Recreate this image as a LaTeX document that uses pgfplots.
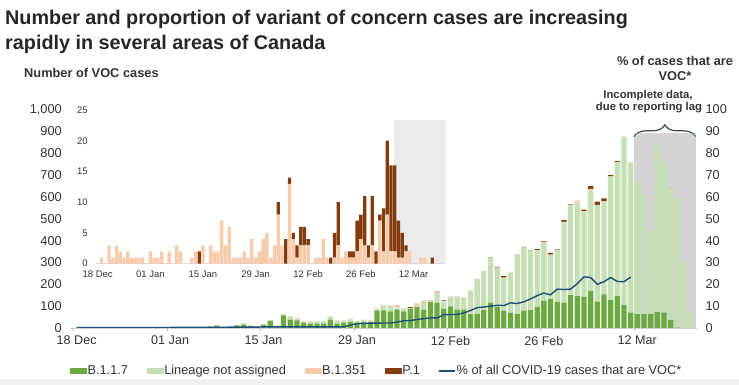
\documentclass[border=0pt]{standalone}
\usepackage{fontspec}
\setmainfont{Liberation Sans}
\usepackage{pgfplots}
\pgfplotsset{compat=1.18}
\usepackage{pgfplotstable}
\usetikzlibrary{decorations.pathreplacing}

\definecolor{cGreen}{HTML}{6AAA3F}
\definecolor{cLight}{HTML}{C5E0B4}
\definecolor{cPeach}{HTML}{F8CBAD}
\definecolor{cBrown}{HTML}{843C0C}
\definecolor{cLine}{HTML}{1F4E79}
\definecolor{cText}{HTML}{333333}
\definecolor{cTitle}{HTML}{262626}
\definecolor{cOver}{HTML}{A5A5A5}
\definecolor{cInsetGray}{HTML}{EBEBEB}
\definecolor{cBrace}{HTML}{3B4A5A}

\pgfplotstableread{
d G L P B
0 0 0 0 0
1 0 0 1 0
2 1 0 0 0
3 0 0 3 0
4 0 0 1 0
5 1 0 3 0
6 0 0 2 0
7 1 0 1 0
8 1 0 2 0
9 1 0 1 0
10 2 0 1 0
11 1 0 1 0
12 0 0 1 0
13 1 0 0 0
14 2 0 2 0
15 1 0 1 0
16 2 0 1 0
17 2 0 2 0
18 3 0 0 0
19 3 0 2 0
20 6 2 0 0
21 10 2 3 0
22 3 0 2 0
23 4 0 0 0
24 12 2 0 0
25 16 5 1 0
26 8 2 2 0
27 3 0 0 2
28 14 0 3 0
29 31 5 0 0
30 8 0 3 0
31 58 4 2 0
32 38 14 2 0
33 35 4 7 0
34 23 6 3 0
35 20 4 6 0
36 20 9 1 0
37 20 9 1 0
38 38 14 1 0
39 20 13 2 0
40 23 11 1 0
41 27 12 4 0
42 23 8 1 0
43 27 9 2 0
44 27 7 4 0
45 80 5 5 0
46 81 22 1 0
47 76 25 3 0
48 84 10 8 2
49 76 13 3 0
50 88 4 0 4
51 97 1 13 1
52 84 35 4 1
53 118 6 1 2
54 115 45 3 3
55 88 33 3 3
56 99 39 3 1
57 84 61 0 0
58 84 54 1 0
59 63 109 1 0
60 64 158 4 0
61 82 178 1 0
62 116 205 0 1
63 96 179 1 4
64 79 148 3 7
65 70 184 1 0
66 65 271 2 0
67 78 294 1 1
68 82 272 1 1
69 95 259 2 5
70 124 265 4 4
71 133 200 3 8
72 119 239 1 2
73 116 367 3 8
74 151 414 0 2
75 146 428 7 1
76 142 391 2 7
77 169 460 8 12
78 121 441 2 14
79 154 423 2 14
80 128 565 1 6
81 146 613 1 4
82 105 767 2 1
83 70 686 2 0
84 64 605 0 0
85 64 544 0 0
86 64 380 1 0
87 73 759 1 0
88 70 691 0 0
89 37 605 0 1
90 2 588 0 0
91 0 302 0 0
92 0 73 0 0
}\voc

\pgfplotstableread{
d pct
0 0.2
4 0.2
8 0.2
12 0.2
16 0.3
20 0.3
24 0.4
27 0.4
28 0.5
32 0.5
36 0.5
40 0.5
41 1.3
42 2.0
43 2.1
44 2.2
45 2.2
46 2.3
47 2.3
48 2.7
49 3.3
50 3.4
51 3.9
52 4.3
53 4.6
54 4.6
55 6.1
56 6.2
57 6.2
58 6.9
59 8.0
60 9.3
61 9.6
62 10.0
63 10.4
64 10.3
65 11.5
66 11.2
67 12.0
68 13.3
69 14.8
70 16.0
71 15.2
72 17.8
73 17.6
74 17.8
75 20.3
76 23.4
77 23.1
78 20.0
79 21.2
80 23.1
81 21.3
82 21.2
83 23.3
}\pct

\begin{document}
\begin{tikzpicture}
\useasboundingbox (0bp,0bp) rectangle (739bp,385bp);
\fill[black!6] (0bp,0bp) rectangle (739bp,6bp);

% titles
\node[anchor=base west, inner sep=0pt, font=\bfseries\fontsize{19.8bp}{24bp}\selectfont, text=cTitle] at (5bp,360bp) {Number and proportion of variant of concern cases are increasing};
\node[anchor=base west, inner sep=0pt, font=\bfseries\fontsize{19.8bp}{24bp}\selectfont, text=cTitle] at (5bp,335bp) {rapidly in several areas of Canada};
\node[anchor=base west, inner sep=0pt, font=\bfseries\fontsize{12.8bp}{15bp}\selectfont, text=cText] at (24bp,307bp) {Number of VOC cases};
\node[anchor=base, inner sep=0pt, font=\bfseries\fontsize{12.8bp}{15bp}\selectfont, text=cText] at (675bp,319.5bp) {\% of cases that are};
\node[anchor=base, inner sep=0pt, font=\bfseries\fontsize{12.8bp}{15bp}\selectfont, text=cText] at (675bp,304bp) {VOC*};
\node[anchor=base, inner sep=0pt, font=\bfseries\fontsize{11.3bp}{13bp}\selectfont, text=cText] at (648bp,286bp) {Incomplete data,};
\node[anchor=base, inner sep=0pt, font=\bfseries\fontsize{11.3bp}{13bp}\selectfont, text=cText] at (649bp,274bp) {due to reporting lag};

% main axis
\begin{axis}[
  at={(70bp,57bp)}, anchor=south west,
  scale only axis, width=627.4bp, height=218.5bp,
  xmin=-1, xmax=93, ymin=0, ymax=1000,
  ybar stacked, bar width=5.3bp,
  axis x line*=bottom, axis y line*=left,
  x axis line style={draw=black!18, -},
  y axis line style={draw=none, -},
  xtick={0,14,28,42,56,70,84},
  xticklabels={18 Dec,01 Jan,15 Jan,29 Jan,12 Feb,26 Feb,12 Mar},
  xtick style={draw=none},
  extra x ticks={-0.5,13.5,27.5,41.5,55.5,69.5,83.5},
  extra x tick labels={},
  extra x tick style={tick align=outside, major tick length=3bp, xtick style={draw=black!25}},
  ytick={0,100,...,1000},
  yticklabels={0,100,200,300,400,500,600,700,800,900,{1,000}},
  ytick style={draw=none},
  ticklabel style={text=cText},
  xticklabel style={font=\fontsize{12.6bp}{14bp}\selectfont, inner sep=0pt, anchor=north, yshift=-8bp},
  yticklabel style={font=\fontsize{12.8bp}{14bp}\selectfont, inner sep=0pt, anchor=east, xshift=-8bp},
  legend style={draw=none, fill=none, at={(0.4877,-0.197)}, anchor=center,
    font=\fontsize{12.8bp}{15bp}\selectfont, text=cText,
    inner sep=0pt, nodes={inner sep=0.6bp},
    /tikz/every even column/.append style={column sep=18bp}},
  legend columns=5, legend cell align=left,
]
\addplot[fill=cGreen, draw=none, legend image code/.code={\fill[cGreen] (0bp,-3.3bp) rectangle (17bp,3.3bp);}] table[x=d,y=G]{\voc};
\addlegendentry{B.1.1.7}
\addplot[fill=cLight, draw=none, legend image code/.code={\fill[cLight] (0bp,-3.3bp) rectangle (17bp,3.3bp);}] table[x=d,y=L]{\voc};
\addlegendentry{Lineage not assigned}
\addplot[fill=cPeach, draw=none, legend image code/.code={\fill[cPeach] (0bp,-3.3bp) rectangle (17bp,3.3bp);}] table[x=d,y=P]{\voc};
\addlegendentry{B.1.351}
\addplot[fill=cBrown, draw=none, legend image code/.code={\fill[cBrown] (0bp,-3.3bp) rectangle (17bp,3.3bp);}] table[x=d,y=B]{\voc};
\addlegendentry{P.1}
\addlegendimage{legend image code/.code={\draw[cLine, line width=1.4bp] (0bp,0bp) -- (16bp,0bp);}}
\addlegendentry{\% of all COVID-19 cases that are VOC*}
\fill[cOver, fill opacity=0.48] (axis cs:83.5,-8) rectangle (axis cs:92.75,891);
\draw[decorate, decoration={brace, amplitude=12bp}, draw=cBrace, line width=1.2bp] (axis cs:83.5,875) -- (axis cs:92.75,875);
\end{axis}

% percentage axis
\begin{axis}[
  at={(70bp,57bp)}, anchor=south west,
  scale only axis, width=627.4bp, height=218.5bp,
  xmin=-1, xmax=93, ymin=0, ymax=100,
  axis x line=none, axis y line*=right,
  y axis line style={draw=none, -},
  ytick={0,10,...,100},
  yticklabels={0,10,20,30,40,50,60,70,80,90,100},
  ytick style={draw=none},
  yticklabel style={font=\fontsize{12.8bp}{14bp}\selectfont, text=cText, inner sep=0pt, anchor=west, xshift=8bp},
]
\addplot[cLine, line width=1.4bp, mark=none] table[x=d,y=pct]{\pct};
\end{axis}

% inset background (grey "incomplete" band)
\begin{axis}[
  at={(95.8bp,121.3bp)}, anchor=south west,
  scale only axis, width=349.7bp, height=153.7bp,
  xmin=-0.5, xmax=92.5, ymin=0, ymax=25,
  hide axis,
]
\fill[cInsetGray] (axis cs:78.8,-0.2) rectangle (axis cs:92.5,23.4);
\end{axis}

% inset axis
\begin{axis}[
  at={(95.8bp,121.3bp)}, anchor=south west,
  scale only axis, width=349.7bp, height=153.7bp,
  xmin=-0.5, xmax=92.5, ymin=0, ymax=25,
  ybar stacked, bar width=3.3bp,
  axis x line*=bottom, axis y line*=left,
  x axis line style={draw=black!15, line width=1.2bp, -},
  y axis line style={draw=none, -},
  xtick={0,14,28,42,56,70,84},
  xticklabels={18 Dec,01 Jan,15 Jan,29 Jan,12 Feb,26 Feb,12 Mar},
  ytick={0,5,...,25},
  yticklabels={0,5,10,15,20,25},
  tick style={draw=none},
  ticklabel style={font=\fontsize{9.5bp}{11bp}\selectfont, text=cText, inner sep=0pt},
  xticklabel style={anchor=north, yshift=-7bp},
  yticklabel style={anchor=east, xshift=-8bp},
]
\addplot[fill=cPeach, draw=none] table[x=d,y=P]{\voc};
\addplot[fill=cBrown, draw=none] table[x=d,y=B]{\voc};
\end{axis}
\end{tikzpicture}
\end{document}
